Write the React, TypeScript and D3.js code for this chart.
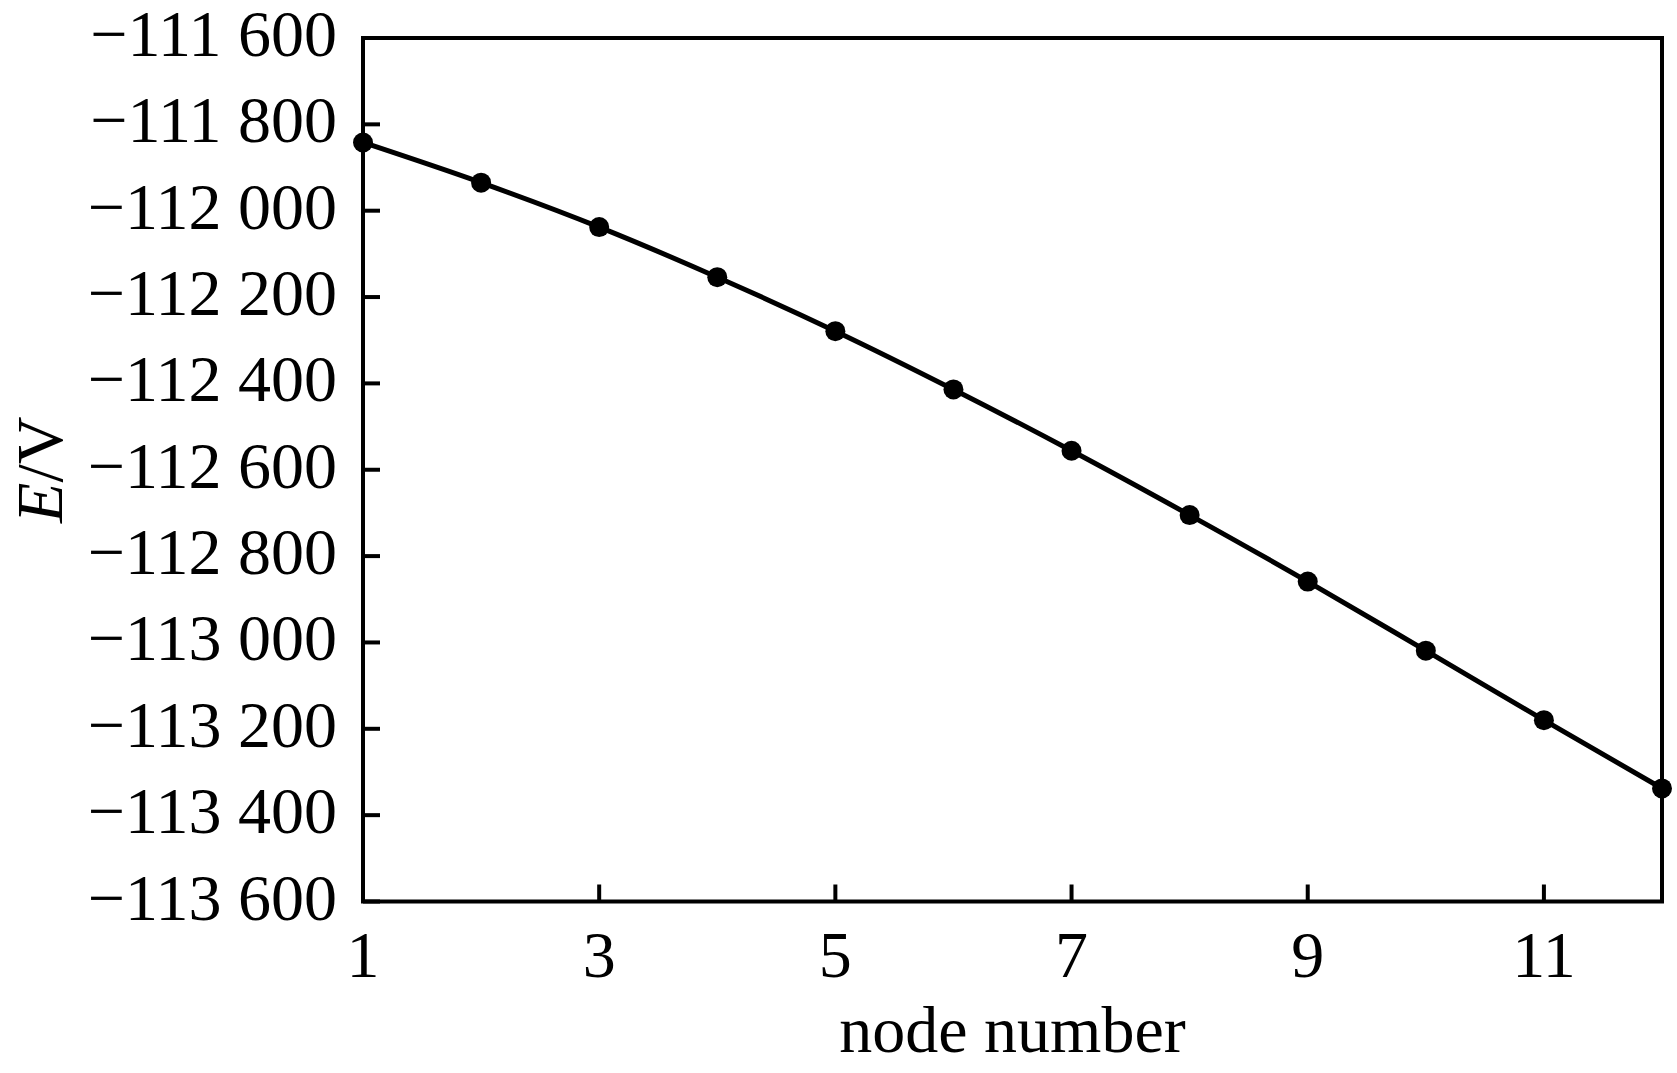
import React from "react";
import * as d3 from "d3";

const nodes: number[] = [1, 2, 3, 4, 5, 6, 7, 8, 9, 10, 11, 12];
const energies: number[] = [
  -111842, -111935, -112038, -112154, -112279, -112414,
  -112556, -112705, -112859, -113019, -113180, -113338,
];
const xTicks: number[] = [1, 3, 5, 7, 9, 11];
const yTicks: number[] = [
  -111600, -111800, -112000, -112200, -112400, -112600,
  -112800, -113000, -113200, -113400, -113600,
];

const W = 1677;
const H = 1073;
const M = { left: 363, right: 1662, top: 38, bottom: 901.5 };
const FONT = "'Liberation Serif', 'Times New Roman', serif";
const FS = 66;

const fmt = (v: number) => {
  const s = Math.abs(v).toString();
  const grouped = s.replace(/\B(?=(\d{3})+(?!\d))/g, " ");
  return (v < 0 ? "\u2212" : "") + grouped;
};

export default function App() {
  const x = d3.scaleLinear().domain([1, 12]).range([M.left, M.right]);
  const y = d3.scaleLinear().domain([-111600, -113600]).range([M.top, M.bottom]);
  const line = d3
    .line<number>()
    .x((_, i) => x(nodes[i]))
    .y((d) => y(d))
    .curve(d3.curveMonotoneX);
  const tickLen = 17;
  return (
    <svg
      width={W}
      height={H}
      style={{ position: "absolute", left: 0, top: 0, background: "#fff" }}
      fontFamily={FONT}
    >
      <rect x={0} y={0} width={W} height={H} fill="#fff" />
      {yTicks.map((t) => (
        <g key={"y" + t}>
          <line x1={M.left} x2={M.left + tickLen} y1={y(t)} y2={y(t)} stroke="#000" strokeWidth={4} />
          <text x={337} y={y(t) + 18} textAnchor="end" fontSize={FS} fill="#000">
            {fmt(t)}
          </text>
        </g>
      ))}
      {xTicks.map((t) => (
        <g key={"x" + t}>
          <line x1={x(t)} x2={x(t)} y1={M.bottom} y2={M.bottom - tickLen} stroke="#000" strokeWidth={4} />
          <text x={x(t)} y={977} textAnchor="middle" fontSize={FS} fill="#000">
            {t}
          </text>
        </g>
      ))}
      <rect
        x={M.left}
        y={M.top}
        width={M.right - M.left}
        height={M.bottom - M.top}
        fill="none"
        stroke="#000"
        strokeWidth={4}
      />
      <path d={line(energies) || ""} fill="none" stroke="#000" strokeWidth={5} />
      {energies.map((v, i) => (
        <circle key={i} cx={x(nodes[i])} cy={y(v)} r={10} fill="#000" />
      ))}
      <text x={(M.left + M.right) / 2} y={1052} textAnchor="middle" fontSize={FS} fill="#000">
        node number
      </text>
      <text
        transform={`translate(62,${(M.top + M.bottom) / 2}) rotate(-90)`}
        textAnchor="middle"
        fontSize={FS}
        fill="#000"
      >
        <tspan fontStyle="italic">E</tspan>
        <tspan>/V</tspan>
      </text>
    </svg>
  );
}
